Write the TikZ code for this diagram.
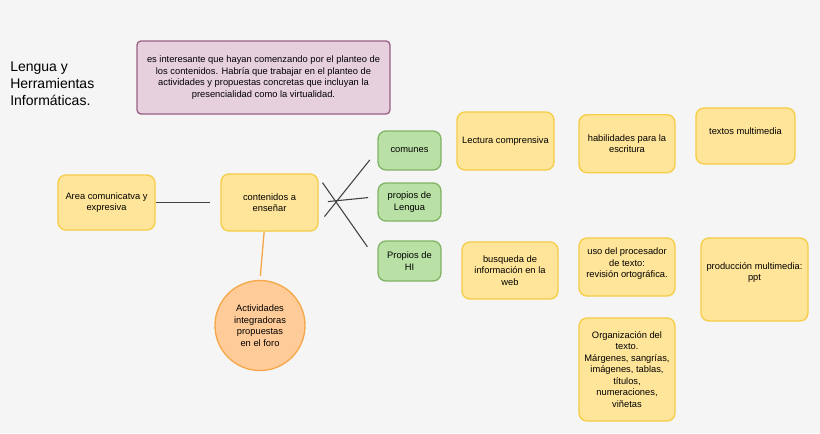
\documentclass[tikz,border=0pt]{standalone}
\usepackage{fontspec}
\setmainfont{Liberation Sans}
\definecolor{bg}{HTML}{F5F5F5}
\definecolor{yf}{HTML}{FFE599}
\definecolor{yd}{HTML}{F5CD47}
\definecolor{gf}{HTML}{B9E0A5}
\definecolor{gd}{HTML}{82B366}
\definecolor{pf}{HTML}{E6D0DE}
\definecolor{pd}{HTML}{996185}
\definecolor{of}{HTML}{FFCC99}
\definecolor{od}{HTML}{F5A84A}
\begin{document}
\begin{tikzpicture}[x=0.75pt,y=-0.75pt,
  base/.style={rounded corners=6pt,line width=1pt,align=center,inner sep=1pt,font=\fontsize{7}{8.6}\selectfont},
  ybox/.style={base,draw=yd,fill=yf},
  gbox/.style={base,draw=gd,fill=gf},
  conn/.style={draw=black!75,line width=0.8pt}]
\fill[bg] (0,0) rectangle (820,433);
\useasboundingbox (0,0) rectangle (820,433);
\node[anchor=north west,align=left,font=\fontsize{10.5}{12.5}\selectfont,inner sep=0] (title) at (10,62) {Lengua y\\Herramientas\\Informáticas.};
\node[base,draw=pd,fill=pf,minimum width=253*0.75pt,minimum height=73*0.75pt,rounded corners=3pt] (note) at (263.5,77.5) {es interesante que hayan comenzando por el planteo de\\los contenidos. Habría que trabajar en el planteo de\\actividades y propuestas concretas que incluyan la\\presencialidad como la virtualidad.};
\node[ybox,minimum width=97*0.75pt,minimum height=55*0.75pt] (area) at (106.5,202.5) {Area comunicatva y\\expresiva};
\node[ybox,minimum width=97*0.75pt,minimum height=57*0.75pt] (cont) at (269.5,202.5) {contenidos a\\enseñar};
\node[gbox,minimum width=63*0.75pt,minimum height=39*0.75pt] (com) at (409.5,150.5) {comunes};
\node[gbox,minimum width=63*0.75pt,minimum height=38*0.75pt] (len) at (409.5,202) {propios de\\Lengua};
\node[gbox,minimum width=63*0.75pt,minimum height=40*0.75pt] (hi) at (409.5,261) {Propios de\\HI};
\node[ybox,minimum width=97*0.75pt,minimum height=58*0.75pt] (lec) at (505.5,141) {Lectura comprensiva};
\node[ybox,minimum width=96*0.75pt,minimum height=58*0.75pt,anchor=north,yshift=-6pt] (hab) at (627,106) {habilidades para la\\escritura};
\node[ybox,minimum width=99*0.75pt,minimum height=56*0.75pt,text depth=8pt] (tex) at (745.5,136) {textos multimedia};
\node[ybox,minimum width=96*0.75pt,minimum height=57*0.75pt] (bus) at (510,270.5) {busqueda de\\información en la\\web};
\node[ybox,minimum width=96*0.75pt,minimum height=58*0.75pt,text depth=6pt] (uso) at (627,267) {uso del procesador\\de texto:\\revisión ortográfica.};
\node[ybox,minimum width=107*0.75pt,minimum height=83*0.75pt,text depth=12pt] (pro) at (754.5,279.5) {producción multimedia:\\ppt};
\node[ybox,minimum width=96*0.75pt,minimum height=103*0.75pt] (org) at (627,369.5) {Organización del\\texto.\\Márgenes, sangrías,\\imágenes, tablas,\\títulos,\\numeraciones,\\viñetas};
\node[circle,draw=od,fill=of,line width=1pt,minimum size=90*0.75pt,align=center,inner sep=0,font=\fontsize{7}{8.6}\selectfont] (act) at (260,325.5) {Actividades\\integradoras\\propuestas\\en el foro};
\draw[conn] (area.east) -- ([xshift=-7.5pt]cont.west);
\draw[conn,shorten <=7pt,shorten >=9pt] ([yshift=-16pt]cont.east) -- (com.west);
\draw[conn,shorten <=7pt,shorten >=7pt] (cont.east) -- ([yshift=4pt]len.west);
\draw[conn,shorten <=5pt,shorten >=13pt] ([yshift=19pt]cont.east) -- (hi.west);
\draw[draw=od,line width=1pt,shorten >=3pt] ([xshift=-4pt]cont.south) -- (act.north);
\end{tikzpicture}
\end{document}
